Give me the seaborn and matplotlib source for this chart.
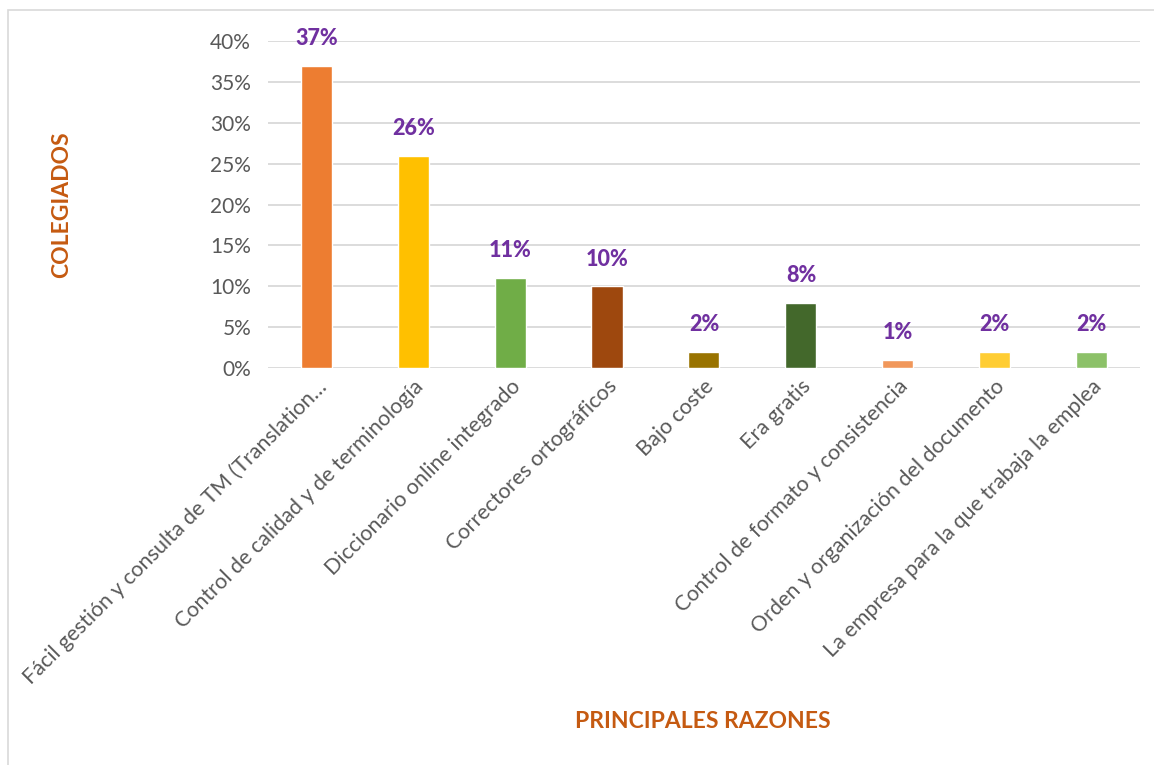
import matplotlib
matplotlib.use("Agg")
import matplotlib.pyplot as plt
import seaborn as sns
import pandas as pd
from matplotlib.patches import Rectangle
from matplotlib.ticker import PercentFormatter

# data
razones = [
    "Fácil gestión y consulta de TM (Translation…",
    "Control de calidad y de terminología",
    "Diccionario online integrado",
    "Correctores ortográficos",
    "Bajo coste",
    "Era gratis",
    "Control de formato y consistencia",
    "Orden y organización del documento",
    "La empresa para la que trabaja la emplea",
]
porcentajes = [0.37, 0.26, 0.11, 0.10, 0.02, 0.08, 0.01, 0.02, 0.02]
colores = ["#ED7D31", "#FFC000", "#70AD47", "#9E480E", "#997300",
           "#43682B", "#F1975A", "#FFCD33", "#8CC168"]

df = pd.DataFrame({"razon": razones, "pct": porcentajes})

sns.set_style("white")
plt.rcParams["font.family"] = ["Lato", "DejaVu Sans"]

fig = plt.figure(figsize=(11.54, 7.65), dpi=100)
ax = fig.add_axes([0.232, 0.519, 0.756, 0.427])

# chart border
fig.patches.append(Rectangle((8 / 1154, -0.01), 1.02, 1 - 10 / 765 + 0.01,
                             transform=fig.transFigure, fill=False,
                             edgecolor="#D9D9D9", linewidth=1.2))

sns.barplot(data=df, x="razon", y="pct", hue="razon", palette=colores,
            legend=False, width=0.32, saturation=1, ax=ax, zorder=3)

ax.set_ylim(0, 0.40)
ax.set_yticks([i * 0.05 for i in range(9)])
ax.yaxis.set_major_formatter(PercentFormatter(1.0, decimals=0))
ax.grid(axis="y", color="#D9D9D9", linewidth=1.3, zorder=0)
ax.set_axisbelow(True)
for s in ax.spines.values():
    s.set_visible(False)
ax.tick_params(axis="y", length=0, labelsize=15, colors="#595959", pad=12)
ax.tick_params(axis="x", length=0, labelsize=15.5, colors="#595959", pad=6)
plt.setp(ax.get_xticklabels(), rotation=45, ha="right", rotation_mode="anchor")

for p, v in zip(ax.patches, porcentajes):
    ax.annotate(f"{v:.0%}", (p.get_x() + p.get_width() / 2, v),
                xytext=(0, 12), textcoords="offset points", ha="center",
                va="bottom", fontsize=15.5, fontweight="black", color="#7030A0")

ax.set_xlabel("")
ax.set_ylabel("")
fig.text(62 / 1154, 1 - 205 / 765, "COLEGIADOS", rotation=90, ha="center",
         va="center", fontsize=16.5, fontweight="bold", color="#C55A11")
fig.text(703 / 1154, 1 - 722 / 765, "PRINCIPALES RAZONES", ha="center",
         va="center", fontsize=16.5, fontweight="bold", color="#C55A11")

fig.savefig("out.png", dpi=100)
